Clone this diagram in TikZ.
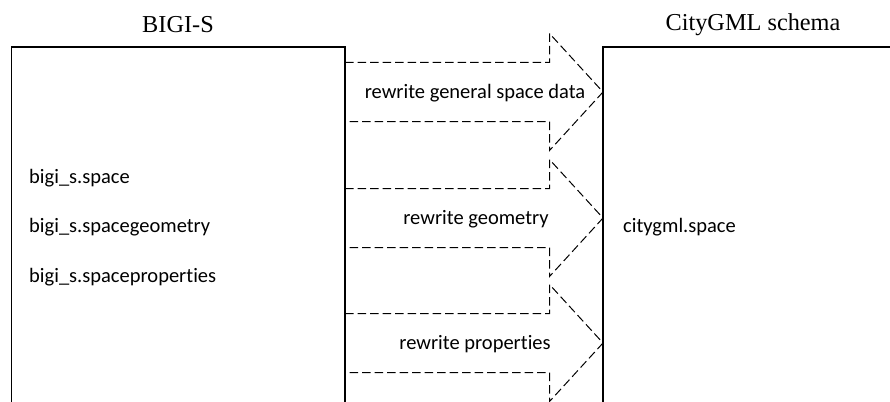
\documentclass[tikz,border=0pt]{standalone}
\usepackage{fontspec}
\setmainfont[RawFeature={-liga}]{Carlito}
\newfontfamily\titlefont{Liberation Serif}
\begin{document}
\begin{tikzpicture}[x=1pt,y=-1pt,
  boxline/.style={line width=1.8pt,draw=black},
  flowarrow/.style={dashed,dash pattern=on 8.5pt off 4pt,line width=1pt,draw=black},
  titletext/.style={font=\titlefont\fontsize{24.3}{27}\selectfont,inner sep=0pt},
  itemtext/.style={font=\fontsize{20.5}{23}\selectfont,inner sep=0pt,anchor=west},
  arrowtext/.style={font=\fontsize{20.5}{23}\selectfont,inner sep=0pt}]
\useasboundingbox (0,0) rectangle (890,401);
\clip (0,0) rectangle (890,401);
% boxes
\coordinate (L1) at (11.5,420);
\coordinate (L2) at (11.5,47);
\coordinate (L3) at (345,47);
\coordinate (L4) at (345,420);
\coordinate (R1) at (603,420);
\coordinate (R2) at (603,47);
\coordinate (R3) at (900,47);
\draw[boxline] (L1) -- (L2) -- (L3) -- (L4);
\draw[boxline] (R1) -- (R2) -- (R3);
% titles
\node[titletext] (tl) at (178,25) {BIGI-S};
\node[titletext] (tr) at (753,25) {CityGML schema};
% items
\node[itemtext] (i1) at (29,178) {bigi\_s.space};
\node[itemtext] (i2) at (29,227) {bigi\_s.spacegeometry};
\node[itemtext] (i3) at (29,277) {bigi\_s.spaceproperties};
\node[itemtext] (c1) at (623,227) {citygml.space};
% arrows
\foreach \c/\n in {92/a1,218/a2,343/a3}{
  \draw[flowarrow] (345,\c-29.5) -- (549.5,\c-29.5) -- (549.5,\c-58.5) -- (603,\c)
     -- (549.5,\c+58.5) -- (549.5,\c+29.5) -- (345,\c+29.5);
}
\node[arrowtext] (t1) at (475,93) {rewrite general space data};
\node[arrowtext] (t2) at (476,219) {rewrite geometry};
\node[arrowtext] (t3) at (475,344) {rewrite properties};
\end{tikzpicture}
\end{document}
